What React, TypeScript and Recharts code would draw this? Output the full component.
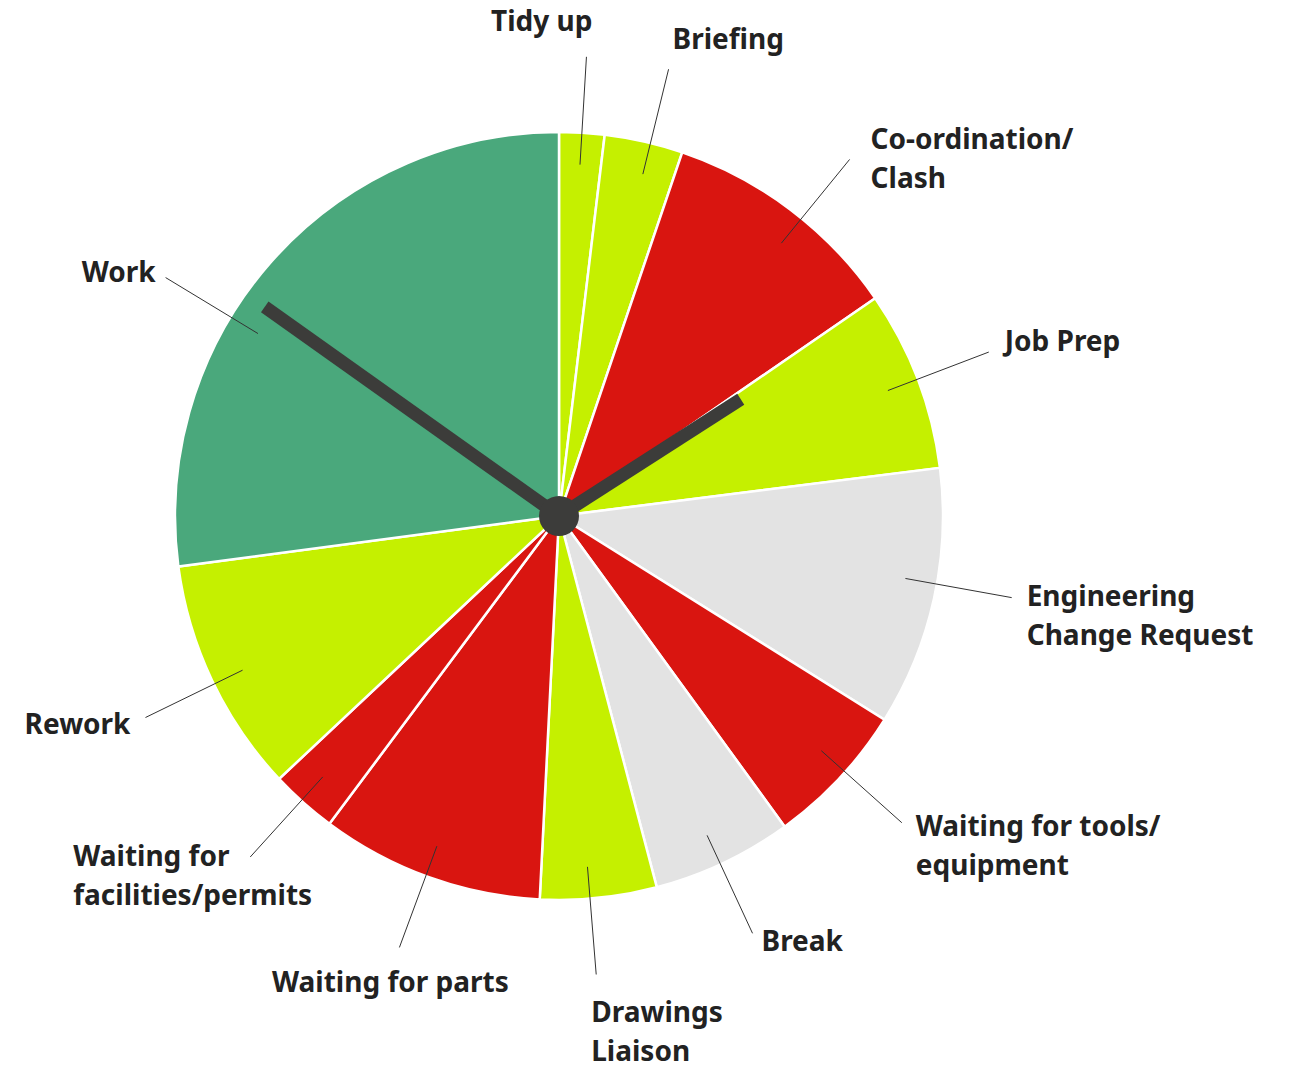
import React from "react";
import { PieChart, Pie, Cell } from "recharts";

const categories = [
  "Tidy up",
  "Briefing",
  "Co-ordination/\nClash",
  "Job Prep",
  "Engineering\nChange Request",
  "Waiting for tools/\nequipment",
  "Break",
  "Drawings\nLiaison",
  "Waiting for parts",
  "Waiting for\nfacilities/permits",
  "Rework",
  "Work",
];
const shares = [1.9, 3.3, 10.2, 7.6, 10.9, 6.1, 5.9, 4.9, 9.4, 2.8, 9.9, 27.1];
const groups = ["lime", "lime", "red", "lime", "grey", "red", "grey", "lime", "red", "red", "lime", "green"];

// clock hand angles, degrees clockwise from 12 o'clock
const minuteHandAngle = 305.4;
const hourHandAngle = 57.3;

const palette: Record<string, string> = {
  lime: "#c5f000",
  red: "#d91510",
  grey: "#e3e3e3",
  green: "#4aa87c",
};

// label layout (styling): leader-line angle tweak (deg, clockwise), text anchor and offset from line end
const labelLayout: { turn: number; anchor: "start" | "middle" | "end"; dx: number; dy: number }[] = [
  { turn: 0, anchor: "end", dx: 6, dy: -37 },
  { turn: 1, anchor: "start", dx: 4, dy: -31 },
  { turn: 2.1, anchor: "start", dx: 21, dy: -21 },
  { turn: 0, anchor: "start", dx: 16, dy: -12 },
  { turn: -2.2, anchor: "start", dx: 15, dy: -3 },
  { turn: -1.2, anchor: "start", dx: 14, dy: 2 },
  { turn: 0.5, anchor: "start", dx: 9, dy: 7 },
  { turn: 1.3, anchor: "start", dx: -5, dy: 37 },
  { turn: 0.5, anchor: "middle", dx: -9, dy: 34 },
  { turn: 0.4, anchor: "start", dx: -177, dy: -2 },
  { turn: -0.6, anchor: "end", dx: -15, dy: 5 },
  { turn: -10, anchor: "end", dx: -10, dy: -7 },
];

const data = categories.map((name, i) => ({ name, value: shares[i], group: groups[i] }));

const CX = 559;
const CY = 516;
const R = 384;
const RAD = Math.PI / 180;
const FONT = "'Noto Sans', Lato, sans-serif";

const renderLabel = (props: any) => {
  const { midAngle, index } = props;
  const cx = Number(props.cx);
  const cy = Number(props.cy);
  const lay = labelLayout[index];
  const a = -(midAngle - lay.turn) * RAD;
  const sx = cx + 352 * Math.cos(a);
  const sy = cy + 352 * Math.sin(a);
  const ex = cx + 460 * Math.cos(a);
  const ey = cy + 460 * Math.sin(a);
  const lines = String(categories[index]).split("\n");
  return (
    <g key={`lbl-${index}`}>
      <line x1={sx} y1={sy} x2={ex} y2={ey} stroke="#333" strokeWidth={1} />
      <text
        x={ex + lay.dx}
        y={ey + lay.dy}
        textAnchor={lay.anchor}
        dominantBaseline="central"
        fill="#222"
        fontFamily={FONT}
        fontWeight={700}
        fontSize={28}
      >
        {lines.map((l, k) => (
          <tspan key={k} x={ex + lay.dx} dy={k === 0 ? 0 : 39}>
            {l}
          </tspan>
        ))}
      </text>
    </g>
  );
};

const hand = (deg: number, len: number) => {
  const t = deg * RAD;
  return { x: CX + len * Math.sin(t), y: CY - len * Math.cos(t) };
};

export default function App() {
  const m = hand(minuteHandAngle, 361);
  const h = hand(hourHandAngle, 216);
  return (
    <div style={{ position: "absolute", left: 0, top: 0, width: 1291, height: 1065, background: "#fff" }}>
      <PieChart width={1291} height={1065} margin={{ top: 0, right: 0, bottom: 0, left: 0 }}>
        <Pie
          data={data}
          dataKey="value"
          nameKey="name"
          cx={CX}
          cy={CY}
          outerRadius={R}
          innerRadius={0}
          startAngle={90}
          endAngle={-270}
          stroke="#ffffff"
          strokeWidth={2.5}
          label={renderLabel}
          labelLine={false}
          isAnimationActive={false}
        >
          {data.map((d, i) => (
            <Cell key={i} fill={palette[d.group]} />
          ))}
        </Pie>
      </PieChart>
      <svg
        width={1291}
        height={1065}
        style={{ position: "absolute", left: 0, top: 0, pointerEvents: "none" }}
      >
        <line x1={CX} y1={CY} x2={m.x} y2={m.y} stroke="#3c3c3a" strokeWidth={13} />
        <line x1={CX} y1={CY} x2={h.x} y2={h.y} stroke="#3c3c3a" strokeWidth={13} />
        <circle cx={CX} cy={CY} r={20} fill="#3c3c3a" />
      </svg>
    </div>
  );
}
